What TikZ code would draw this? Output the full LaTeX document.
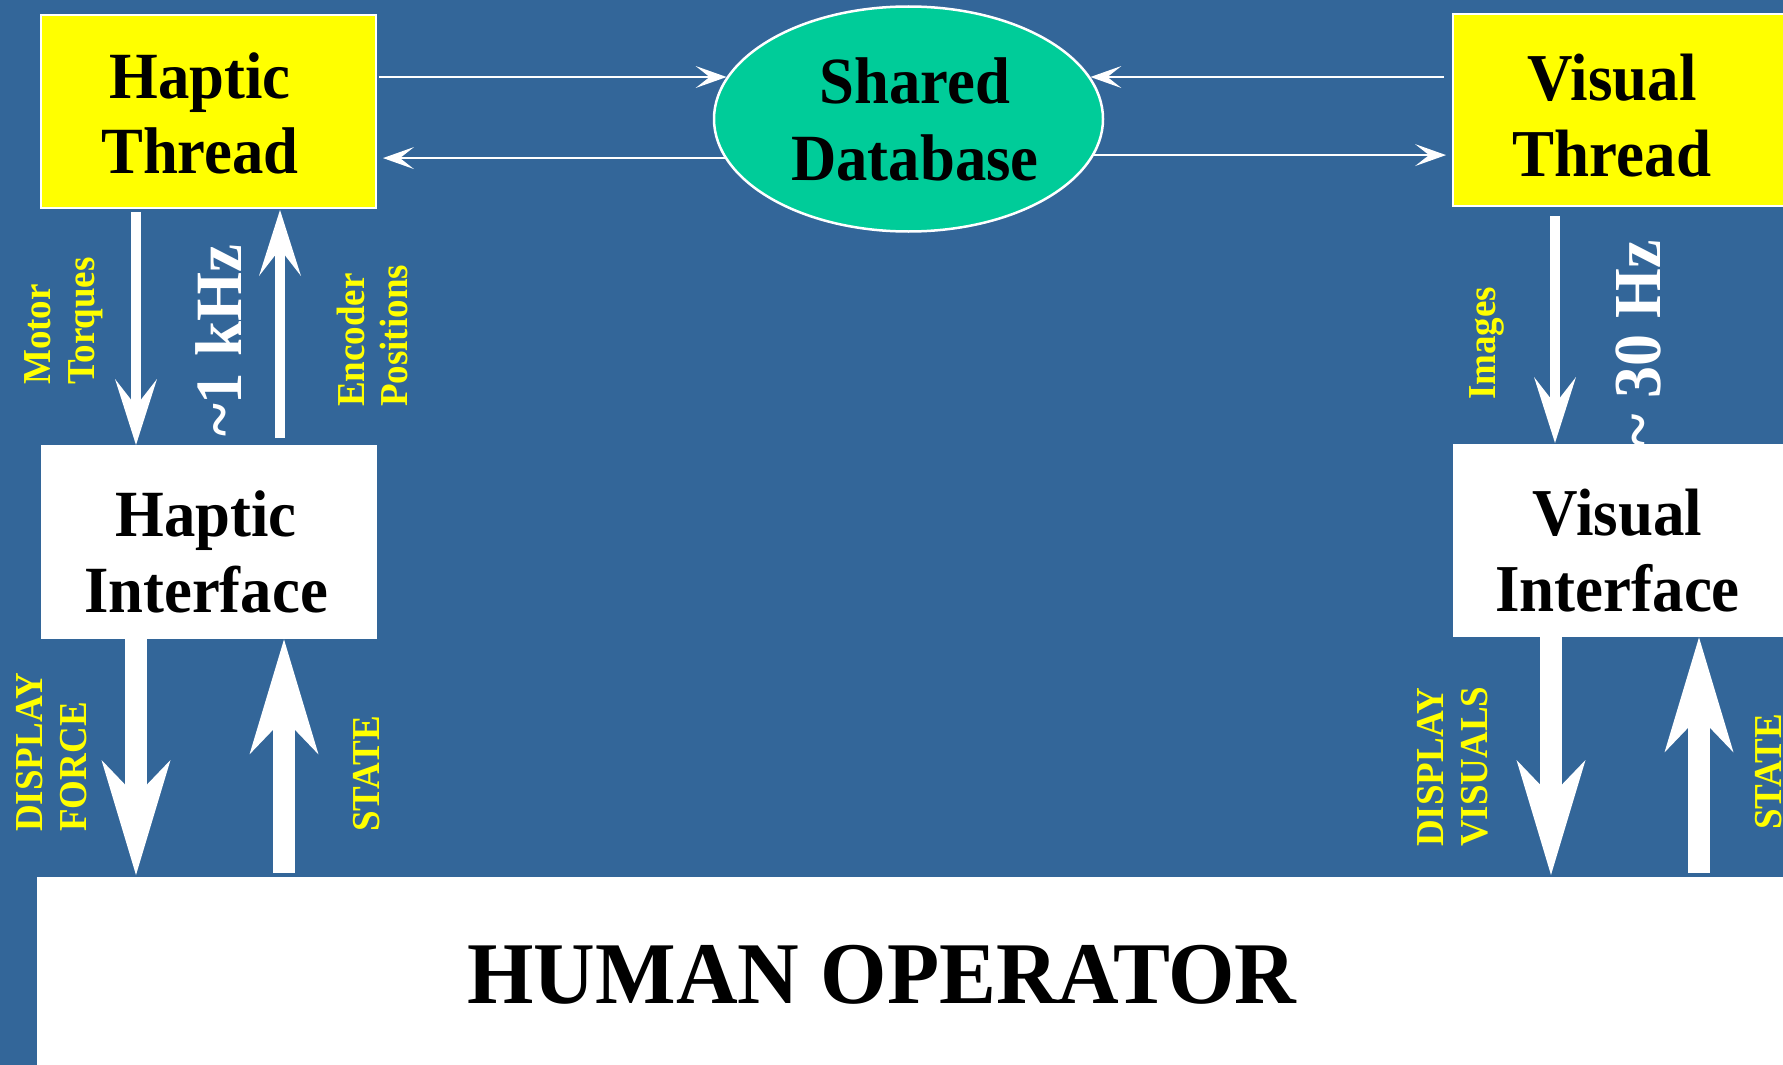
\documentclass[tikz,border=0pt]{standalone}
\usepackage{fontspec}
\setmainfont{Liberation Serif}
\usetikzlibrary{arrows.meta,shapes.geometric}

\definecolor{slidebg}{RGB}{51,102,153}
\definecolor{dbgreen}{RGB}{0,204,153}
\definecolor{threadyellow}{RGB}{255,255,0}

% centred bold block: xscale, size, leading, lines
\newcommand{\boxtext}[4]{\scalebox{#1}[1]{\fontsize{#2}{#3}\selectfont\bfseries
  \begin{tabular}[b]{@{}c@{}}#4\end{tabular}}}
% left-aligned bold block for vertical labels: yscale, size, leading, lines
\newcommand{\sidetext}[4]{\scalebox{1}[#1]{\fontsize{#2}{#3}\selectfont\bfseries
  \begin{tabular}[t]{@{}l@{}}#4\end{tabular}}}

\begin{document}
\begin{tikzpicture}[x=1pt,y=-1pt,
  threadbox/.style={rectangle, anchor=north west, inner sep=0pt,
    fill=threadyellow, draw=white, line width=2pt},
  devicebox/.style={rectangle, anchor=north west, inner sep=0pt, fill=white},
  boxlabel/.style={anchor=base, inner sep=0pt, text=black},
  sidelabel/.style={rotate=90, anchor=base west, inner sep=0pt, text=threadyellow},
  ratelabel/.style={rotate=90, anchor=base west, inner sep=0pt, text=white},
  thinarrow/.style={draw=white, line width=2.5pt,
    -{Stealth[length=31pt,width=22pt,inset=14pt,line width=0pt]}},
  medarrow/.style={draw=white, line width=10.5pt,
    -{Stealth[length=66pt,width=42pt,inset=27pt,line width=0pt]}},
  bigarrow/.style={draw=white, line width=22pt,
    -{Stealth[length=115pt,width=69pt,inset=36pt,line width=0pt]}}]

\useasboundingbox (0,0) rectangle (1783,1065);
\clip (0,0) rectangle (1783,1065);
\fill[slidebg] (0,0) rectangle (1783,1065);

% vertical labels beside the links
\node[sidelabel] (lmotor) at (50,385) {\sidetext{1.07}{37}{42}{Motor\\Torques}};
\node[sidelabel] (lencoder) at (364,407) {\sidetext{1.07}{37}{41}{Encoder\\Positions}};
\node[sidelabel] (ldisplayforce) at (42,832) {\sidetext{1.07}{37}{42}{DISPLAY\\FORCE}};
\node[sidelabel] (lstateh) at (379,832) {\sidetext{1.07}{37}{42}{STATE}};
\node[sidelabel] (limages) at (1495,400) {\sidetext{1.07}{37}{42}{Images}};
\node[sidelabel] (ldisplayvis) at (1443,847) {\sidetext{1.07}{37}{42}{DISPLAY\\VISUALS}};
\node[sidelabel] (lstatev) at (1781,830) {\sidetext{1.07}{37}{42}{STATE}};

% update rates
\node[ratelabel] (rhaptic) at (241,437) {\sidetext{1.05}{63}{70}{\textasciitilde1 kHz}};
\node[ratelabel] (rvisual) at (1660,448) {\sidetext{1.05}{64}{70}{\textasciitilde{} 30 Hz}};

% blocks
\node[threadbox, minimum width=335pt, minimum height=193pt] (HT) at (40,14) {};
\node[threadbox, minimum width=400pt, minimum height=192pt] (VT) at (1452,13) {};
\node[ellipse, draw=white, line width=2.5pt, fill=dbgreen, inner sep=0pt,
  minimum width=389pt, minimum height=225pt] (SD) at (908.5,119) {};
\node[devicebox, minimum width=336pt, minimum height=194pt] (HI) at (41,445) {};
\node[devicebox, minimum width=400pt, minimum height=193pt] (VI) at (1453,444) {};
\node[devicebox, minimum width=1800pt, minimum height=250pt] (HO) at (37,877) {};

\node[boxlabel] (HTtext) at (200,173) {\boxtext{0.95}{66}{75}{Haptic\\Thread}};
\node[boxlabel] (VTtext) at (1612,176) {\boxtext{0.94}{67}{76}{Visual\\Thread}};
\node[boxlabel] (SDtext) at (915,180) {\boxtext{0.95}{66}{77}{Shared\\Database}};
\node[boxlabel] (HItext) at (206,612) {\boxtext{0.95}{66}{76}{Haptic\\Interface}};
\node[boxlabel] (VItext) at (1617.5,611) {\boxtext{0.94}{67}{76}{Visual\\Interface}};
\node[boxlabel] (HOtext) at (882,1003) {\boxtext{0.97}{88}{100}{HUMAN OPERATOR}};

% links between the threads and the shared database
\draw[thinarrow, shorten <=2pt] (HT.east |- SD.167.8) -- (SD.167.8);
\draw[thinarrow, shorten >=6pt] (SD.192.2) -- (HT.east |- SD.192.2);
\draw[thinarrow, shorten <=8pt] (VT.west |- SD.13.1) -- (SD.13.1);
\draw[thinarrow, shorten >=6pt] (SD.349.6) -- (VT.west |- SD.349.6);

% haptic loop
\draw[medarrow, shorten <=3pt] ([xshift=96pt]HT.south west) -- ([xshift=95pt]HI.north west);
\draw[medarrow, shorten <=7pt, shorten >=1pt] ([xshift=239pt]HI.north west) -- ([xshift=240pt]HT.south west);
\draw[bigarrow, shorten >=2pt] ([xshift=95pt]HI.south west) -- ([xshift=99pt]HO.north west);
\draw[bigarrow, shorten <=4pt] ([xshift=247pt]HO.north west) -- ([xshift=243pt]HI.south west);

% visual loop
\draw[medarrow, shorten <=9pt, shorten >=1pt] ([xshift=103pt]VT.south west) -- ([xshift=102pt]VI.north west);
\draw[bigarrow, shorten >=2pt] ([xshift=98pt]VI.south west) -- ([xshift=1514pt]HO.north west);
\draw[bigarrow, shorten <=4pt] ([xshift=1662pt]HO.north west) -- ([xshift=246pt]VI.south west);
\end{tikzpicture}
\end{document}
